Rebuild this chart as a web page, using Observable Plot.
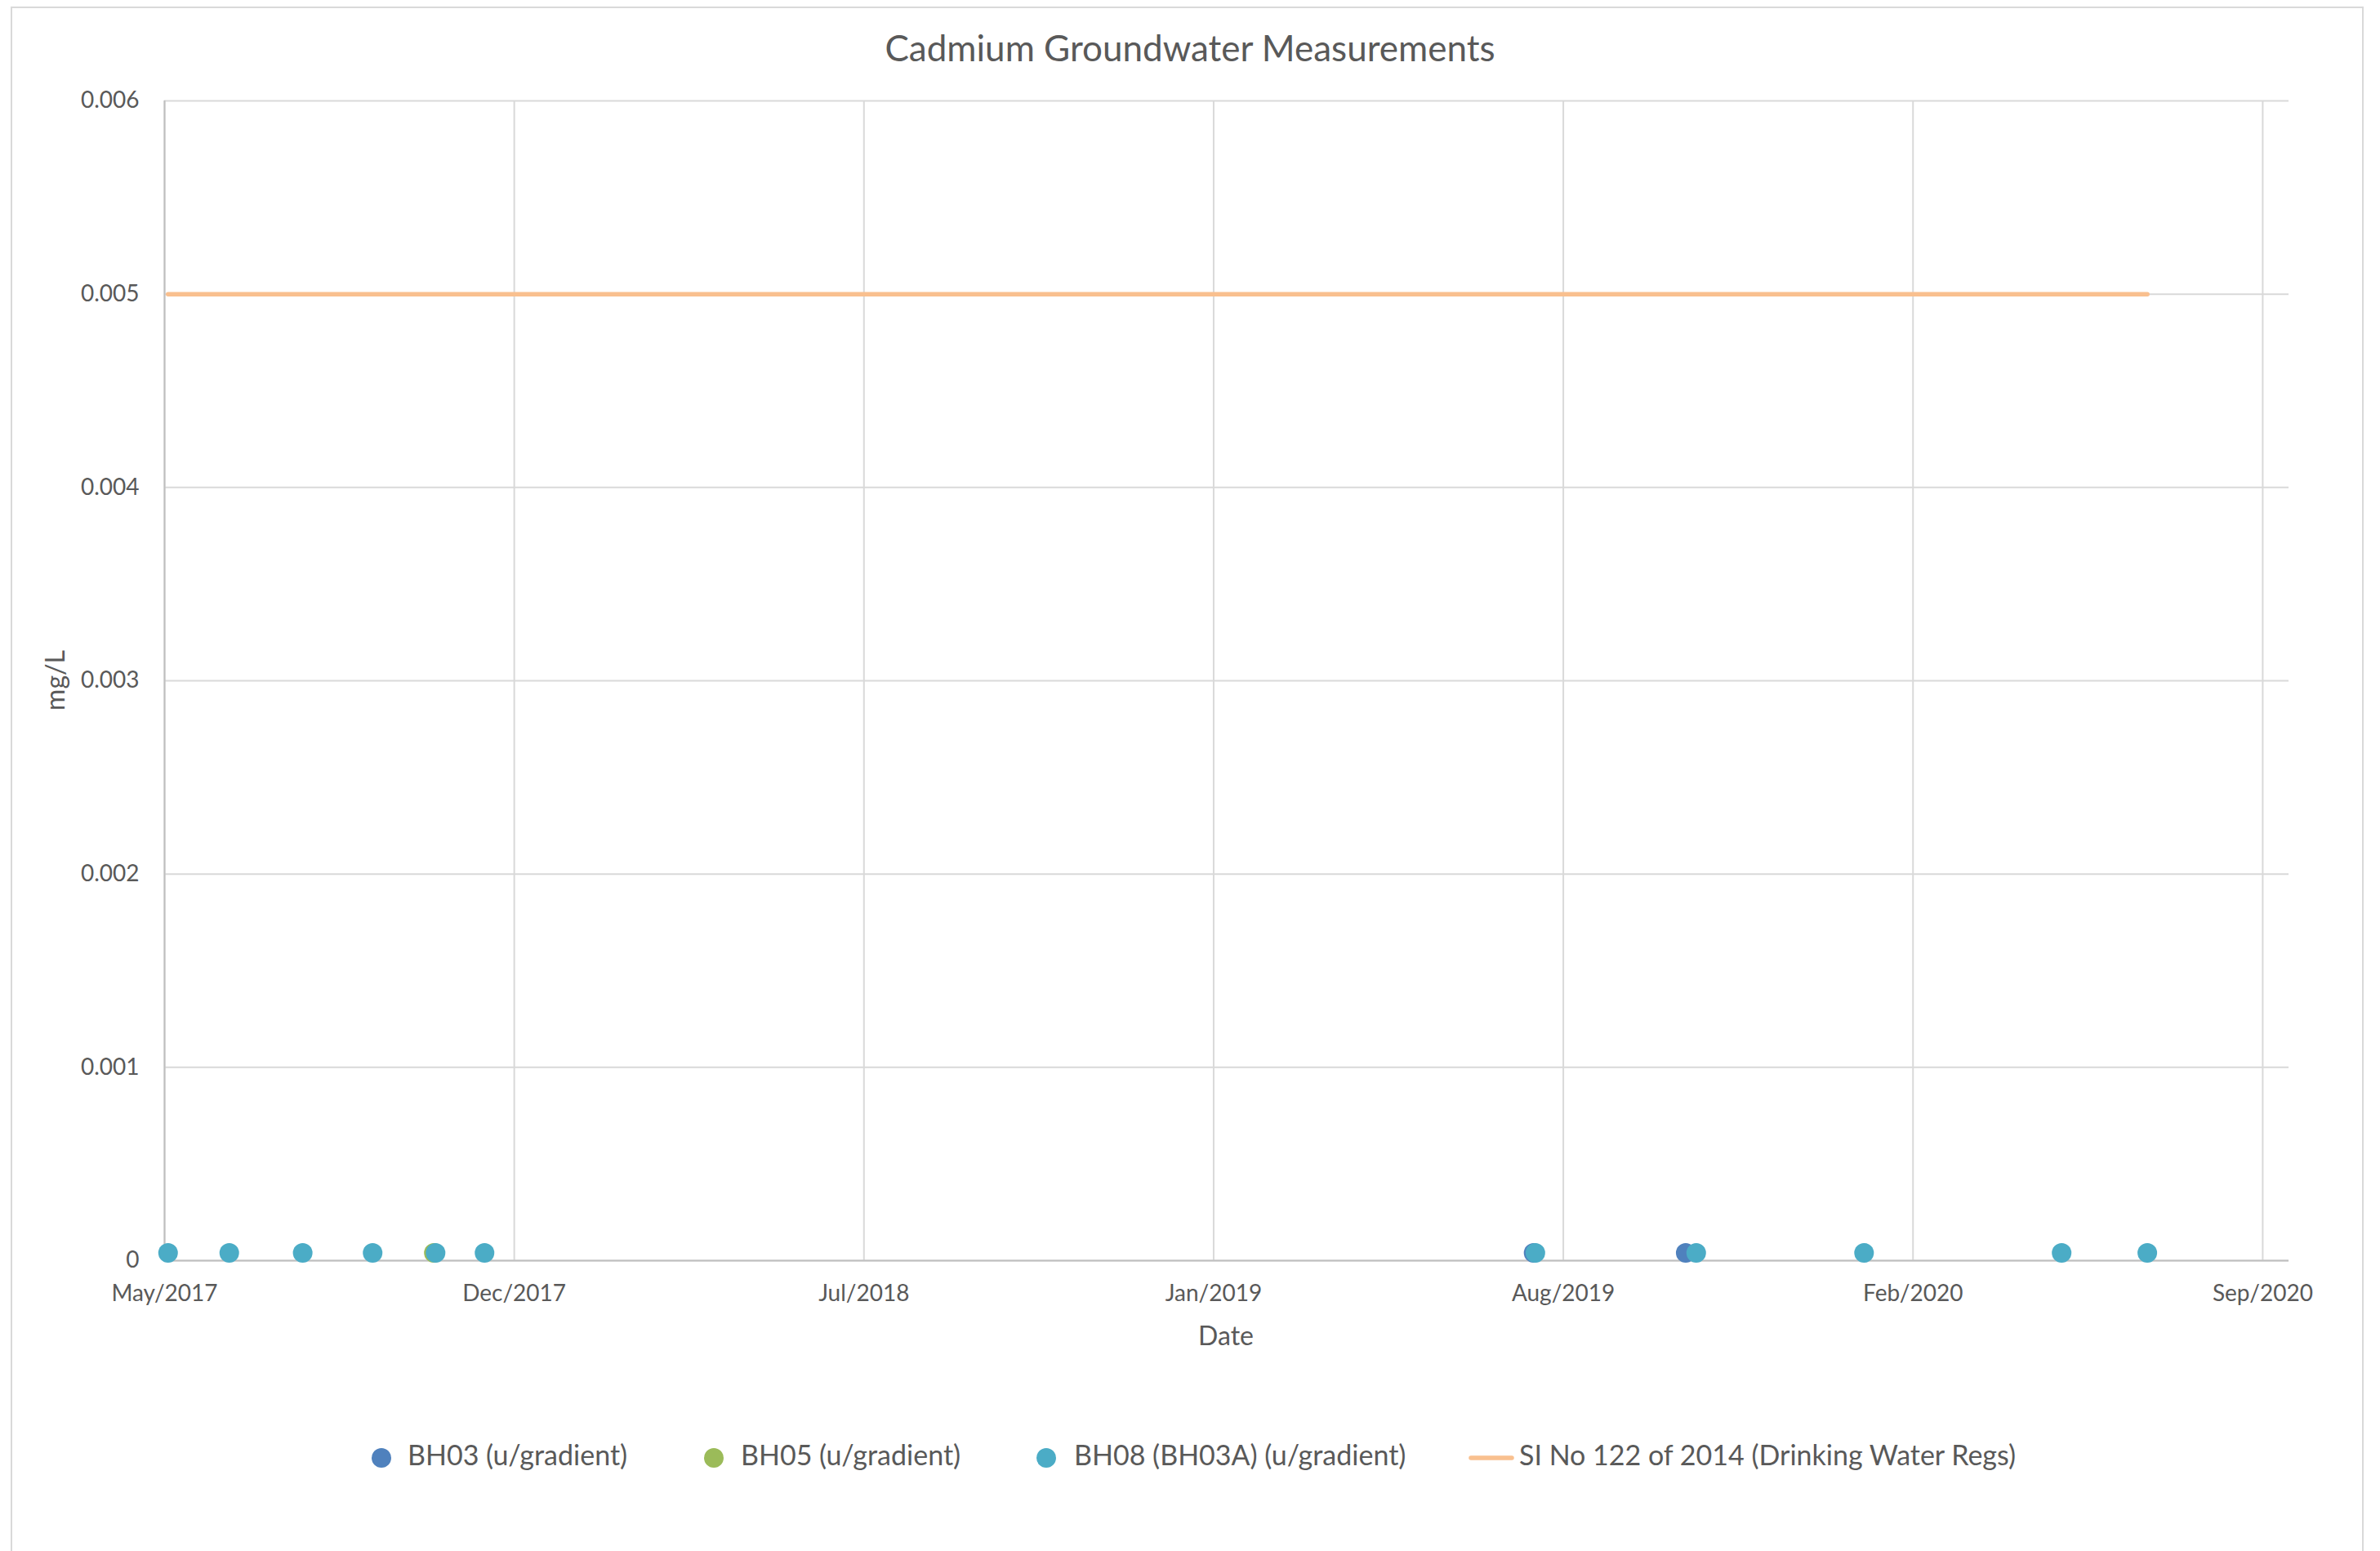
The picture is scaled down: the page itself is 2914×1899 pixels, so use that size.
<!DOCTYPE html>
<html>
<head>
<meta charset="utf-8">
<script src="https://cdn.jsdelivr.net/npm/d3@7"></script>
<script src="https://cdn.jsdelivr.net/npm/@observablehq/plot@0.6"></script>
<style>
  html, body { margin: 0; padding: 0; background: #ffffff; }
  #chart { position: relative; width: 2914px; height: 1899px; overflow: hidden; font-family: Lato, "Open Sans", sans-serif; color: #595959; }
  #frame { position: absolute; left: 13px; top: 8px; width: 2881px; height: 1920px; border: 2px solid #d9d9d9; box-sizing: border-box; }
  #title { position: absolute; left: 0; width: 2914px; top: 36px; text-align: center; font-size: 44px; line-height: 1; }
  #ylabel { position: absolute; left: 67px; top: 833px; font-size: 32px; line-height: 1; transform: translate(-50%, -50%) rotate(-90deg); white-space: nowrap; }
  #xlabel { position: absolute; left: 1501px; top: 1619px; font-size: 32px; line-height: 1; transform: translateX(-50%); }
  #plot { position: absolute; left: 0; top: 0; }
  .leg { position: absolute; top: 1764px; font-size: 34px; line-height: 1; white-space: nowrap; }
  .legmark { position: absolute; }
</style>
</head>
<body>
<div id="chart">
  <div id="frame"></div>
  <div id="plot"></div>
  <div id="title">Cadmium Groundwater Measurements</div>
  <div id="ylabel">mg/L</div>
  <div id="xlabel">Date</div>
  <div id="legend"></div>
</div>
<script>
// ---- data ----
const seriesNames = ["BH03 (u/gradient)", "BH05 (u/gradient)", "BH08 (BH03A) (u/gradient)", "SI No 122 of 2014 (Drinking Water Regs)"];
const seriesColors = ["#4F81BD", "#9BBB59", "#4BACC6", "#F9C08F"];

const bh03Dates = ["2019-07-20", "2019-10-15"];
const bh03Values = [0.00004, 0.00004];

const bh05Dates = ["2017-10-29"];
const bh05Values = [0.00004];

const bh08Dates = ["2017-05-30", "2017-07-04", "2017-08-15", "2017-09-24", "2017-10-30", "2017-11-27",
                   "2019-07-21", "2019-10-21", "2020-01-25", "2020-05-17", "2020-07-05"];
const bh08Values = [0.00004, 0.00004, 0.00004, 0.00004, 0.00004, 0.00004,
                    0.00004, 0.00004, 0.00004, 0.00004, 0.00004];

const limitDates = ["2017-05-30", "2020-07-05"];
const limitValues = [0.005, 0.005];

const xTickDates = ["2017-05-28", "2017-12-14", "2018-07-02", "2019-01-18", "2019-08-06", "2020-02-22", "2020-09-09"];
const xDomainDates = ["2017-05-28", "2020-09-24"];
const yTicks = [0, 0.001, 0.002, 0.003, 0.004, 0.005, 0.006];
const yDomain = [0, 0.006];

// ---- build ----
const parse = s => new Date(s + "T00:00:00Z");
const points = [];
[[bh03Dates, bh03Values, 0], [bh05Dates, bh05Values, 1], [bh08Dates, bh08Values, 2]].forEach(([ds, vs, i]) => {
  ds.forEach((d, j) => points.push({date: parse(d), value: vs[j], series: seriesNames[i]}));
});
const limit = limitDates.map((d, j) => ({date: parse(d), value: limitValues[j]}));
const xTicks = xTickDates.map(parse);

const fmtX = d3.utcFormat("%b/%Y");
const fmtY = d => d === 0 ? "0" : d.toFixed(3);

const plot = Plot.plot({
  width: 2914,
  height: 1700,
  marginLeft: 201,
  marginRight: 112,
  marginTop: 123,
  marginBottom: 157,
  style: { fontFamily: "Lato, 'Open Sans', sans-serif", fontSize: "28px", color: "#595959", background: "transparent", overflow: "visible" },
  x: { type: "utc", domain: xDomainDates.map(parse), label: null },
  y: { domain: yDomain, label: null },
  color: { domain: seriesNames.slice(0, 3), range: seriesColors.slice(0, 3) },
  marks: [
    Plot.gridY(yTicks, { stroke: "#d9d9d9", strokeOpacity: 1, strokeWidth: 2 }),
    Plot.gridX(xTicks, { stroke: "#d9d9d9", strokeOpacity: 1, strokeWidth: 2 }),
    Plot.ruleX([xTicks[0]], { stroke: "#bfbfbf", strokeWidth: 2 }),
    Plot.ruleY([0], { stroke: "#bfbfbf", strokeWidth: 2 }),
    Plot.axisX(xTicks, { tickSize: 0, tickPadding: 30, tickFormat: fmtX, fill: "#595959", fontSize: 28, label: null }),
    Plot.axisY(yTicks, { tickSize: 0, tickPadding: 31, tickFormat: fmtY, fill: "#595959", fontSize: 28, label: null }),
    Plot.lineY(limit, { x: "date", y: "value", stroke: seriesColors[3], strokeWidth: 5.5, strokeLinecap: "round" }),
    Plot.dot(points, { x: "date", y: "value", fill: "series", r: 12, stroke: "none" })
  ]
});
document.getElementById("plot").appendChild(plot);

// ---- legend ----
const legend = document.getElementById("legend");
const legItems = [
  { mark: "dot", cx: 467, textLeft: 499 },
  { mark: "dot", cx: 874, textLeft: 907 },
  { mark: "dot", cx: 1281, textLeft: 1315 },
  { mark: "line", x1: 1801, x2: 1851, textLeft: 1860 }
];
const legY = 1785;
legItems.forEach((it, i) => {
  const ns = "http://www.w3.org/2000/svg";
  const svg = document.createElementNS(ns, "svg");
  svg.setAttribute("class", "legmark");
  if (it.mark === "dot") {
    svg.setAttribute("width", 26); svg.setAttribute("height", 26);
    svg.style.left = (it.cx - 13) + "px"; svg.style.top = (legY - 13) + "px";
    const c = document.createElementNS(ns, "circle");
    c.setAttribute("cx", 13); c.setAttribute("cy", 13); c.setAttribute("r", 12);
    c.setAttribute("fill", seriesColors[i]);
    svg.appendChild(c);
  } else {
    svg.setAttribute("width", it.x2 - it.x1 + 8); svg.setAttribute("height", 12);
    svg.style.left = (it.x1 - 4) + "px"; svg.style.top = (legY - 6) + "px";
    const l = document.createElementNS(ns, "line");
    l.setAttribute("x1", 4); l.setAttribute("x2", it.x2 - it.x1 + 4);
    l.setAttribute("y1", 6); l.setAttribute("y2", 6);
    l.setAttribute("stroke", seriesColors[i]); l.setAttribute("stroke-width", 5.5);
    l.setAttribute("stroke-linecap", "round");
    svg.appendChild(l);
  }
  document.getElementById("chart").appendChild(svg);
  const t = document.createElement("div");
  t.className = "leg";
  t.style.left = it.textLeft + "px";
  t.textContent = seriesNames[i];
  legend.appendChild(t);
});
</script>
</body>
</html>
